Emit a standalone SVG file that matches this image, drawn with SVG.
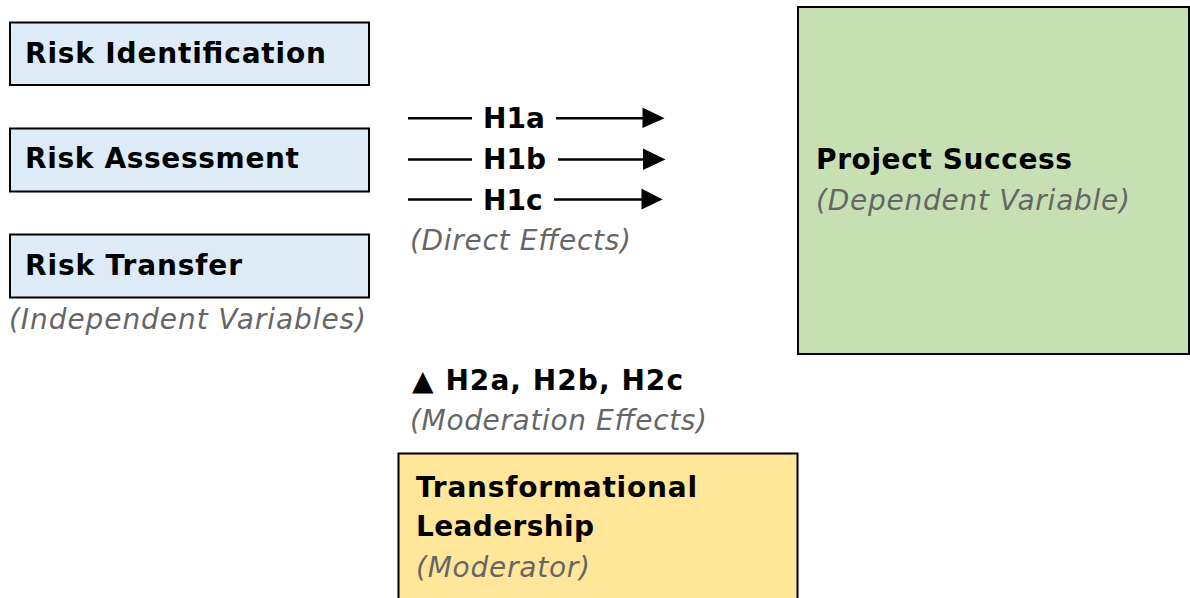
<svg xmlns="http://www.w3.org/2000/svg" width="1190" height="598" viewBox="0 0 1190 598">
  <style>
    .box { stroke: #000; stroke-width: 2; }
    .iv { fill: #DDEBF7; }
    .dv { fill: #C6E0B4; }
    .mod { fill: #FFE699; }
    .title { font-family: "DejaVu Sans", Verdana, sans-serif; font-weight: bold; font-size: 28px; fill: #000; }
    .note { font-family: "DejaVu Sans", Verdana, sans-serif; font-style: italic; font-size: 28px; fill: #666; }
    .link { stroke: #000; stroke-width: 2.6; fill: none; }
    .head { fill: #000; }
  </style>
  <rect width="1190" height="598" fill="#fff"/>

  <!-- independent variables -->
  <g id="risk-identification">
    <rect class="box iv" x="10" y="22.5" width="359" height="62.5"/>
    <text class="title" x="25" y="63" textLength="301" lengthAdjust="spacing">Risk Identification</text>
  </g>
  <g id="risk-assessment">
    <rect class="box iv" x="10" y="128.5" width="359" height="63"/>
    <text class="title" x="25" y="168" textLength="274" lengthAdjust="spacing">Risk Assessment</text>
  </g>
  <g id="risk-transfer">
    <rect class="box iv" x="10" y="234.5" width="359" height="63"/>
    <text class="title" x="25" y="275" textLength="217" lengthAdjust="spacing">Risk Transfer</text>
  </g>
  <text class="note" x="9" y="329" textLength="357" lengthAdjust="spacing">(Independent Variables)</text>

  <!-- direct effect arrows H1a-H1c -->
  <g id="connectors">
    <line class="link" x1="408" y1="118.3" x2="472" y2="118.3"/>
    <line class="link" x1="556" y1="118.3" x2="644" y2="118.3"/>
    <polygon class="head" points="642.5,107.5 664.5,118.3 642.5,128"/>
    <line class="link" x1="408" y1="159.5" x2="472" y2="159.5"/>
    <line class="link" x1="558" y1="159.5" x2="645" y2="159.5"/>
    <polygon class="head" points="643,148.5 665.5,159.5 643,170"/>
    <line class="link" x1="408" y1="199.5" x2="472" y2="199.5"/>
    <line class="link" x1="554" y1="199.5" x2="643" y2="199.5"/>
    <polygon class="head" points="641.5,188.5 662.5,199.5 641.5,209.5"/>
  </g>
  <g id="direct-labels">
    <text class="title" x="483" y="127.5">H1a</text>
    <text class="title" x="483" y="168.5">H1b</text>
    <text class="title" x="483" y="209.5">H1c</text>
    <text class="note" x="410" y="250" textLength="221" lengthAdjust="spacing">(Direct Effects)</text>
  </g>

  <!-- moderation label -->
  <g id="moderation-labels">
    <text class="title" x="412" y="390" textLength="271" lengthAdjust="spacing">▲ H2a, H2b, H2c</text>
    <text class="note" x="410" y="430" textLength="297" lengthAdjust="spacing">(Moderation Effects)</text>
  </g>

  <!-- dependent variable -->
  <g id="project-success">
    <rect class="box dv" x="798" y="7" width="391" height="347"/>
    <text class="title" x="816" y="168.5" textLength="256" lengthAdjust="spacing">Project Success</text>
    <text class="note" x="816" y="209.5" textLength="314" lengthAdjust="spacing">(Dependent Variable)</text>
  </g>

  <!-- moderator -->
  <g id="transformational-leadership">
    <rect class="box mod" x="398.5" y="453.5" width="399" height="160"/>
    <text class="title" x="416" y="497" textLength="281" lengthAdjust="spacing">Transformational</text>
    <text class="title" x="416" y="536" textLength="178" lengthAdjust="spacing">Leadership</text>
    <text class="note" x="416" y="577" textLength="174" lengthAdjust="spacing">(Moderator)</text>
  </g>
</svg>
